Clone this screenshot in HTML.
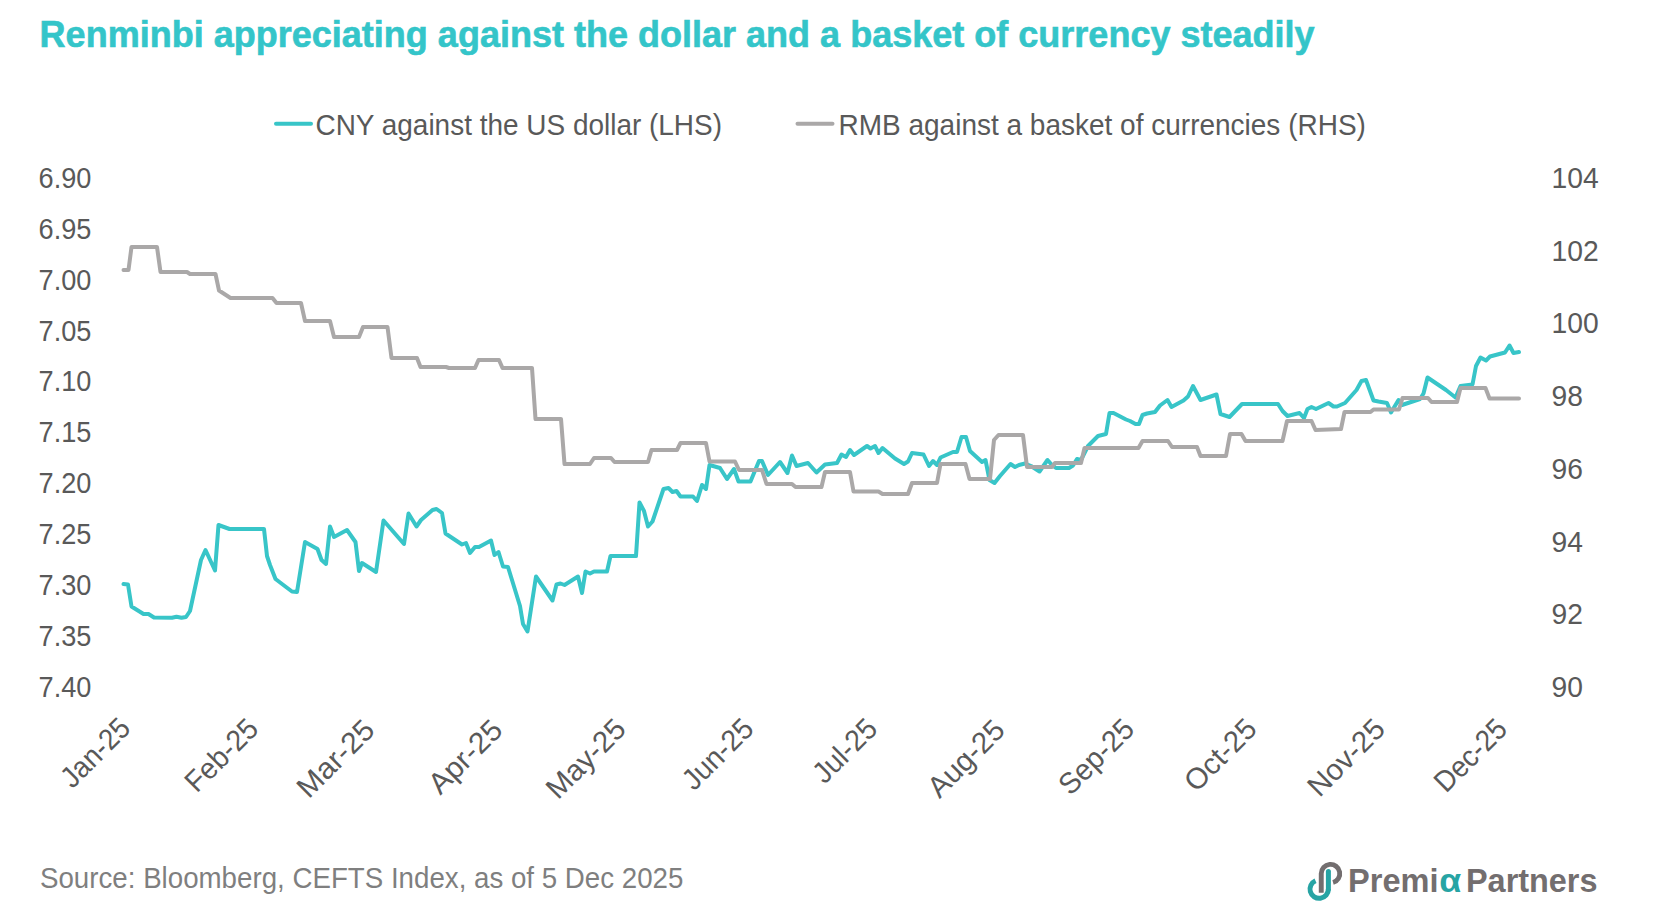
<!DOCTYPE html>
<html><head><meta charset="utf-8"><title>Renminbi chart</title>
<style>
html,body{margin:0;padding:0;background:#fff;}
body{width:1660px;height:906px;overflow:hidden;}
svg{display:block;}
text{font-family:"Liberation Sans", Arial, sans-serif;}
.ax{font-size:29.6px;fill:#595959;}
</style></head><body>
<svg width="1660" height="906" viewBox="0 0 1660 906">
<rect width="1660" height="906" fill="#fff"/>
<text x="39.6" y="46.9" font-size="37" font-weight="bold" fill="#34C5C9" stroke="#34C5C9" stroke-width="0.6" textLength="1275" lengthAdjust="spacingAndGlyphs">Renminbi appreciating against the dollar and a basket of currency steadily</text>
<line x1="276" y1="123.8" x2="311" y2="123.8" stroke="#38C5C8" stroke-width="4" stroke-linecap="round"/>
<text x="315.5" y="134.6" font-size="29.6" fill="#595959" textLength="406.5" lengthAdjust="spacingAndGlyphs">CNY against the US dollar (LHS)</text>
<line x1="797.5" y1="123.8" x2="832.5" y2="123.8" stroke="#AAA8A8" stroke-width="4" stroke-linecap="round"/>
<text x="838.5" y="134.6" font-size="29.6" fill="#595959" textLength="527.4" lengthAdjust="spacingAndGlyphs">RMB against a basket of currencies (RHS)</text>
<text x="38.6" y="187.7" class="ax" style="font-size:30.1px" textLength="52.8" lengthAdjust="spacingAndGlyphs">6.90</text>
<text x="38.6" y="238.6" class="ax" style="font-size:30.1px" textLength="52.8" lengthAdjust="spacingAndGlyphs">6.95</text>
<text x="38.6" y="289.6" class="ax" style="font-size:30.1px" textLength="52.8" lengthAdjust="spacingAndGlyphs">7.00</text>
<text x="38.6" y="340.5" class="ax" style="font-size:30.1px" textLength="52.8" lengthAdjust="spacingAndGlyphs">7.05</text>
<text x="38.6" y="391.4" class="ax" style="font-size:30.1px" textLength="52.8" lengthAdjust="spacingAndGlyphs">7.10</text>
<text x="38.6" y="442.3" class="ax" style="font-size:30.1px" textLength="52.8" lengthAdjust="spacingAndGlyphs">7.15</text>
<text x="38.6" y="493.3" class="ax" style="font-size:30.1px" textLength="52.8" lengthAdjust="spacingAndGlyphs">7.20</text>
<text x="38.6" y="544.2" class="ax" style="font-size:30.1px" textLength="52.8" lengthAdjust="spacingAndGlyphs">7.25</text>
<text x="38.6" y="595.1" class="ax" style="font-size:30.1px" textLength="52.8" lengthAdjust="spacingAndGlyphs">7.30</text>
<text x="38.6" y="646.1" class="ax" style="font-size:30.1px" textLength="52.8" lengthAdjust="spacingAndGlyphs">7.35</text>
<text x="38.6" y="697.0" class="ax" style="font-size:30.1px" textLength="52.8" lengthAdjust="spacingAndGlyphs">7.40</text>
<text x="1551.5" y="187.7" class="ax" style="font-size:30.1px" textLength="47.2" lengthAdjust="spacingAndGlyphs">104</text>
<text x="1551.5" y="260.5" class="ax" style="font-size:30.1px" textLength="47.2" lengthAdjust="spacingAndGlyphs">102</text>
<text x="1551.5" y="333.2" class="ax" style="font-size:30.1px" textLength="47.2" lengthAdjust="spacingAndGlyphs">100</text>
<text x="1551.5" y="406.0" class="ax" style="font-size:30.1px" textLength="31.4" lengthAdjust="spacingAndGlyphs">98</text>
<text x="1551.5" y="478.7" class="ax" style="font-size:30.1px" textLength="31.4" lengthAdjust="spacingAndGlyphs">96</text>
<text x="1551.5" y="551.5" class="ax" style="font-size:30.1px" textLength="31.4" lengthAdjust="spacingAndGlyphs">94</text>
<text x="1551.5" y="624.2" class="ax" style="font-size:30.1px" textLength="31.4" lengthAdjust="spacingAndGlyphs">92</text>
<text x="1551.5" y="697.0" class="ax" style="font-size:30.1px" textLength="31.4" lengthAdjust="spacingAndGlyphs">90</text>
<text transform="translate(132.00,730.00) rotate(-45) scale(0.9279,1)" text-anchor="end" class="ax">Jan-25</text>
<text transform="translate(260.08,730.60) rotate(-45) scale(0.9540,1)" text-anchor="end" class="ax">Feb-25</text>
<text transform="translate(376.38,731.80) rotate(-45) scale(1.0200,1)" text-anchor="end" class="ax">Mar-25</text>
<text transform="translate(504.25,731.80) rotate(-45) scale(1.0191,1)" text-anchor="end" class="ax">Apr-25</text>
<text transform="translate(627.60,731.00) rotate(-45) scale(0.9969,1)" text-anchor="end" class="ax">May-25</text>
<text transform="translate(755.28,730.60) rotate(-45) scale(0.9567,1)" text-anchor="end" class="ax">Jun-25</text>
<text transform="translate(879.03,730.60) rotate(-45) scale(0.9564,1)" text-anchor="end" class="ax">Jul-25</text>
<text transform="translate(1006.70,732.00) rotate(-45) scale(0.9949,1)" text-anchor="end" class="ax">Aug-25</text>
<text transform="translate(1135.97,731.00) rotate(-45) scale(0.9699,1)" text-anchor="end" class="ax">Sep-25</text>
<text transform="translate(1258.53,730.80) rotate(-45) scale(0.9927,1)" text-anchor="end" class="ax">Oct-25</text>
<text transform="translate(1386.80,731.00) rotate(-45) scale(0.9967,1)" text-anchor="end" class="ax">Nov-25</text>
<text transform="translate(1508.95,731.00) rotate(-45) scale(0.9317,1)" text-anchor="end" class="ax">Dec-25</text>
<polyline points="123.5,584 128,584.5 131.5,606.5 143.5,614 148.5,614 154,617.5 172,617.8 176.5,616.8 181.5,617.8 186,617 190,611 201,560 205.5,550 215,570.5 218.5,525 229.5,529 264,529 267,556 270,565 275.5,579 286,587 292,591.5 297,592 305,542 317.5,549 321.5,560 326,564 330,526.5 334,537 347,530 353,538.5 355.5,542 359,571 362,563 376,572 383.5,520.5 404,544 408.5,513.5 416.5,526.5 421,520 432.5,510 436.5,509 442,513 445.5,533.5 462,544.5 466,543 470,553 475,547 479,547 491,540.5 494.5,555 498.5,552 503,566.5 508,567 520,606 523,624 527.5,631.5 536,576.5 552.5,600.5 556.5,584.5 560.5,583.5 564.5,585 578,576.5 582,593 585.5,571.5 590,573.5 594,571.5 607,571.5 610.5,556 636,556 639.5,502.5 644,511 648,526.5 652.5,521.5 663.5,489 668.5,488 672.5,492 676.5,491 680.5,496.5 693,496.5 697,501 702,485 706,489 709.5,465 720,468 727,479 734,469 738.5,481.5 750.5,481.5 759,461 762,461 768,475 780,462 787.5,473 792,455.5 796.5,466 808,463 816.5,472.5 825,464.5 837,463 841.5,454.5 846,457 850,450 854,455 867,446 870.5,448.5 875,446 878.5,453 882.5,448 895,458.5 904,464 908,461.5 912,453 923.5,454.5 929,466 933,461 937,465 940.5,457.5 953,452 957,452 961.5,437 966,437 970,451 982,462 985.5,460 989.5,480 994.5,483 1000,476 1010.5,464 1015,467 1019,465 1025,463.5 1031,466 1039.5,471.5 1047.5,460 1052,465 1056,468 1069,468 1073,465.5 1077,459 1081,460 1088,446 1098,436 1106,434 1109.5,413 1113.5,413 1126,419.5 1130,421 1135.5,424 1139,424 1142.5,415 1147,413.5 1155,412 1160,405.5 1167.5,400 1171.5,407 1183.5,400.5 1188,396.5 1193,386 1200.5,400 1216.5,394.5 1220.5,414 1229.5,417 1242,404 1278,404 1282.5,411 1287.5,416 1299.5,413 1304,418 1307.5,409 1311.5,407 1316,409 1328.5,403 1333.5,406.5 1337,406.5 1345,403 1356.5,390 1361.5,381 1366,380 1373.5,400.5 1378.5,401.5 1387,403 1391,412.5 1398.5,400 1402,405 1420,399 1423.5,393.5 1427.5,377.5 1446,390 1455.5,397.5 1460.5,386 1472.5,384.5 1476,366 1480.5,357.5 1486,360.5 1490,356.5 1505,352.5 1509.5,345.5 1513.5,353 1519,352" fill="none" stroke="#38C5C8" stroke-width="4" stroke-linejoin="round" stroke-linecap="round"/>
<polyline points="123.5,270 128.5,270 131.5,247 157,247 160.5,272 187,272 190,274 215.5,274 219,290.5 230.5,298 272.5,298 276.5,303 301,303 305,321 330,321 334,337 359,337 363,327 387.5,327 391.5,358 417,358 420.5,367 446,367 449,368 475,368 478.5,360 499,360 502.5,368 532,368 535.5,419 561,419 564.5,464 590,464 594,458 611,458 614.5,462 648,462 651.5,450 677,450 680.5,443 706,443 709.5,461.5 735,461.5 739,470 762,470 766.5,484 792,484 795.5,487 821.5,487 825,472 850,472 853.5,491.5 878.5,491.5 882.5,494 908,494 912,483 937,483 940.5,464 965.5,464 969.5,479 990,479 994,440 998.5,435 1023,435 1027,467 1052,467 1055,463 1081,463 1084.5,448 1138.5,448 1142.5,441 1168,441 1172,447 1197,447 1200.5,456 1226,456 1230,434 1241.5,434 1245.5,441 1282.5,441 1287,421 1311.5,421 1315.5,430 1341,429 1344.5,412 1370.5,412 1373.5,409.5 1399,409.5 1402.5,398 1428,398 1431.5,402 1457,402 1460.5,388 1485.5,388 1489.5,398.5 1519,398.5" fill="none" stroke="#AAA8A8" stroke-width="4" stroke-linejoin="round" stroke-linecap="round"/>
<text x="40" y="888.4" font-size="30" fill="#7F7F7F" textLength="643.4" lengthAdjust="spacingAndGlyphs">Source: Bloomberg, CEFTS Index, as of 5 Dec 2025</text>
<g id="logo">
<path d="M1321.25,892.8 V873.6 A9.25,9.25 0 1 1 1333.05,882.5" fill="none" stroke="#736E6F" stroke-width="4.9"/>
<path d="M1328.4,871.4 V889.1 A9.2,9.2 0 1 1 1315.5,880.7" fill="none" stroke="#fff" stroke-width="6.6"/>
<path d="M1328.4,889.1 A9.2,9.2 0 1 1 1315.5,880.7" fill="none" stroke="#27A4A4" stroke-width="5"/>
<line x1="1328.4" y1="871.4" x2="1328.4" y2="889.2" stroke="#27A4A4" stroke-width="5" stroke-linecap="round"/>
<text x="1348" y="891.8" font-size="33" font-weight="bold" fill="#736E6F" textLength="90.5" lengthAdjust="spacingAndGlyphs">Premi</text>
<text x="1439.2" y="891.8" font-size="33" font-weight="bold" fill="#27A4A4" textLength="22" lengthAdjust="spacingAndGlyphs">α</text>
<text x="1466" y="891.8" font-size="33" font-weight="bold" fill="#736E6F" textLength="131.5" lengthAdjust="spacingAndGlyphs">Partners</text>
</g>
</svg>
</body></html>
